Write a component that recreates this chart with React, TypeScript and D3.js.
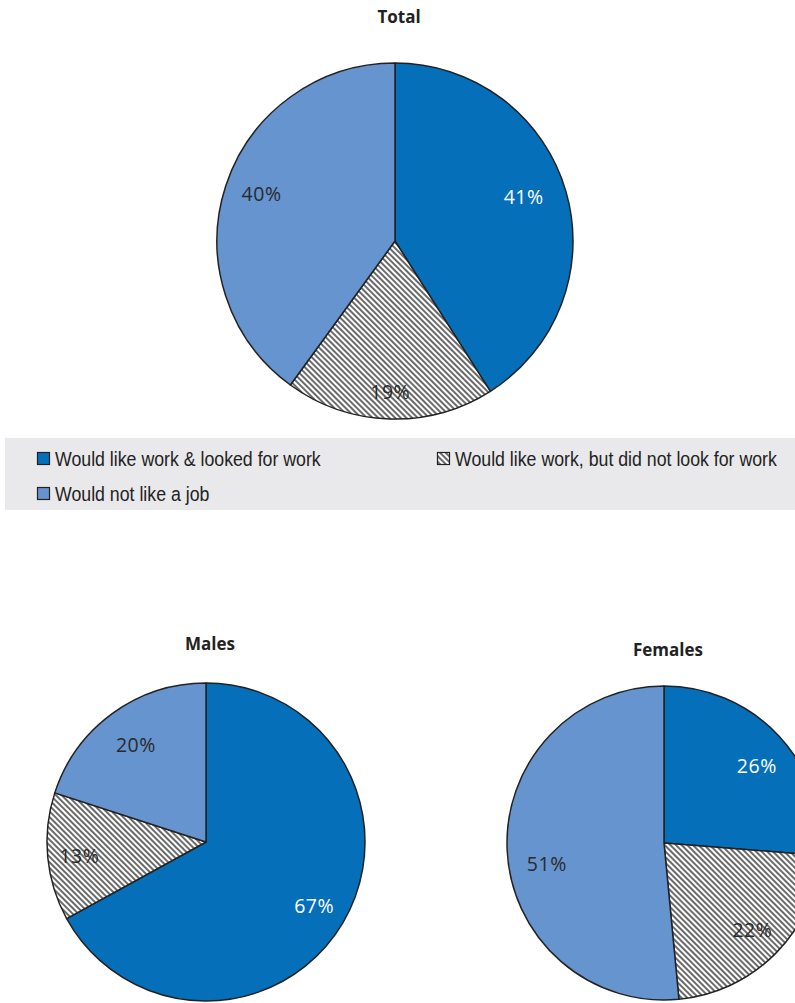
import React from "react";
import * as d3 from "d3";

const categories = [
  "Would like work & looked for work",
  "Would like work, but did not look for work",
  "Would not like a job",
];
const totalValues = [41, 19, 40];
const maleValues = [67, 13, 20];
const femaleValues = [26, 22, 51];

const W = 795;
const H = 1003;
const DARK = "#0570B9";
const LIGHT = "#6594CE";
const fills = [DARK, "url(#hatch)", LIGHT];
const labelColors = ["#ffffff", "#2a2a2a", "#2a2a2a"];

type PieProps = {
  title: string;
  values: number[];
  cx: number;
  cy: number;
  r: number;
  titleY: number;
  labelFactors: number[];
  nudges: number[][];
};

function Pie({ title, values, cx, cy, r, titleY, labelFactors, nudges }: PieProps) {
  const pie = d3.pie<number>().sort(null).value((d) => d)(values);
  const arc = d3.arc<d3.PieArcDatum<number>>().innerRadius(0).outerRadius(r);
  return (
    <g>
      <text
        x={cx + 4}
        y={titleY}
        textAnchor="middle"
        fontFamily="'Open Sans', sans-serif"
        fontWeight="bold"
        fontSize={17}
        fill="#222"
      >
        {title}
      </text>
      <g transform={`translate(${cx},${cy})`}>
        {pie.map((p, i) => (
          <path
            key={i}
            d={arc(p) || ""}
            fill={fills[i]}
            stroke="#222"
            strokeWidth={1.5}
            strokeLinejoin="round"
          />
        ))}
        {pie.map((p, i) => {
          const a = (p.startAngle + p.endAngle) / 2;
          const lr = r * labelFactors[i];
          const x = Math.sin(a) * lr + nudges[i][0];
          const y = -Math.cos(a) * lr + nudges[i][1];
          return (
            <text
              key={"l" + i}
              x={x}
              y={y}
              dy="0.35em"
              textAnchor="middle"
              fontFamily="'Open Sans', sans-serif"
              fontSize={19.5}
              letterSpacing={0.5}
              fill={labelColors[i]}
            >
              {`${Math.round(values[i])}%`}
            </text>
          );
        })}
      </g>
    </g>
  );
}

export default function App() {
  const legendFont = "'Liberation Sans', Arial, sans-serif";
  const legendItems = [
    { x: 37, y: 452 },
    { x: 437, y: 452 },
    { x: 37, y: 487 },
  ];
  return (
    <svg
      width={W}
      height={H}
      style={{ position: "absolute", left: 0, top: 0, background: "#fff" }}
    >
      <defs>
        <pattern
          id="hatch"
          patternUnits="userSpaceOnUse"
          width={4}
          height={4}
          patternTransform="rotate(45)"
        >
          <rect width={4} height={4} fill="#fff" />
          <line x1={0} y1={1} x2={4} y2={1} stroke="#2a2a2a" strokeWidth={1.4} />
        </pattern>
      </defs>

      <Pie
        title="Total"
        values={totalValues}
        cx={395}
        cy={241}
        r={178}
        titleY={23}
        labelFactors={[0.77, 0.85, 0.8]}
        nudges={[[-3, -6], [0, 0], [2, -3]]}
      />

      <rect x={5} y={438} width={790} height={72} fill="#E9E9EB" />
      {categories.map((c, i) => (
        <g key={c}>
          <rect
            x={legendItems[i].x + 0.5}
            y={legendItems[i].y + 0.5}
            width={12}
            height={12}
            fill={fills[i]}
            stroke="#222"
            strokeWidth={1.2}
          />
          <g transform={`translate(${legendItems[i].x + 18},${legendItems[i].y + 14}) scale(0.91,1)`}>
            <text
              x={0}
              y={0}
              fontFamily={legendFont}
              fontSize={19.5}
              fill="#222"
            >
              {c}
            </text>
          </g>
        </g>
      ))}

      <Pie
        title="Males"
        values={maleValues}
        cx={206}
        cy={842}
        r={159}
        titleY={650}
        labelFactors={[0.79, 0.8, 0.75]}
        nudges={[[0, 0], [0, 2], [0, 0]]}
      />
      <Pie
        title="Females"
        values={femaleValues}
        cx={664}
        cy={843}
        r={157}
        titleY={656}
        labelFactors={[0.77, 0.79, 0.76]}
        nudges={[[4, 5], [0, 0], [2, 15]]}
      />
    </svg>
  );
}
